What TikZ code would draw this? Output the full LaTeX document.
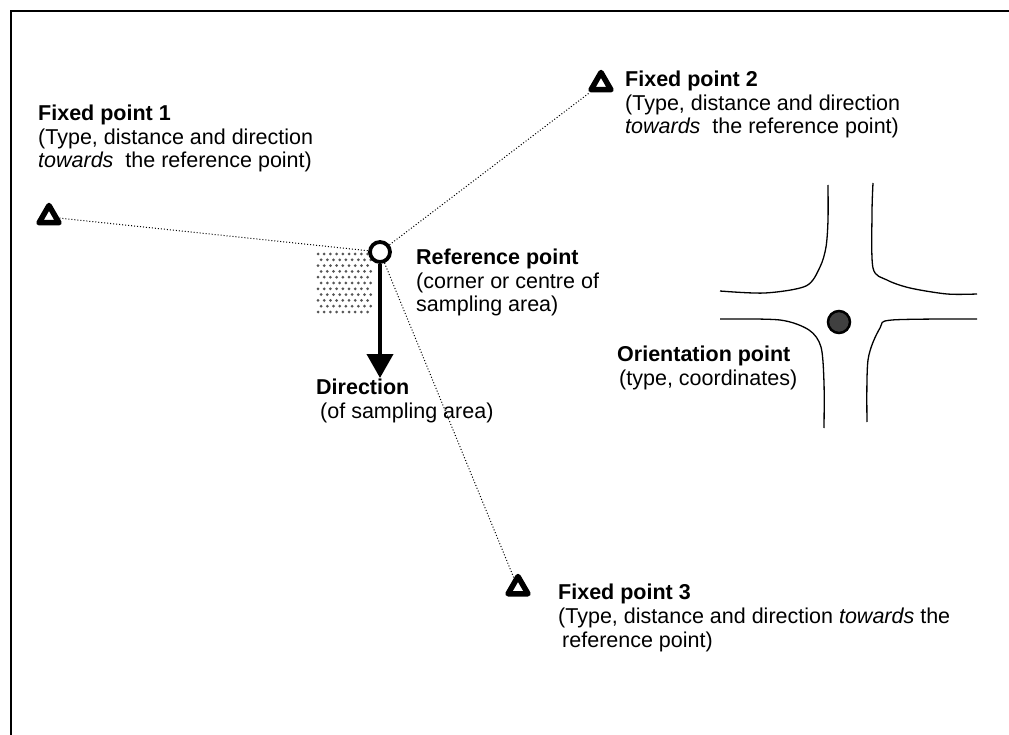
\documentclass[tikz,border=0pt]{standalone}
\usepackage{fontspec}
\setmainfont{Liberation Sans}
\usetikzlibrary{arrows.meta,shapes.geometric}
\definecolor{ink}{HTML}{000000}
\definecolor{dotfill}{HTML}{404040}
\definecolor{stip}{HTML}{555555}

\begin{document}
\begin{tikzpicture}[
    x=1pt, y=-1pt,
    every node/.style={font=\fontsize{21.5}{23.8}\selectfont, text=ink},
    fixpt/.style={regular polygon, regular polygon sides=3, draw=ink, fill=white,
        line width=5.5pt, line join=round, minimum size=23pt, inner sep=0pt},
    refpt/.style={circle, draw=ink, fill=white, line width=3.8pt,
        minimum size=20pt, inner sep=0pt},
    orpt/.style={circle, draw=ink, fill=dotfill, line width=2.5pt,
        minimum size=22pt, inner sep=0pt},
    sight/.style={dotted, line width=1pt, ink},
    road/.style={line width=1.3pt, ink},
    lbl/.style={align=left, anchor=base west, inner sep=0pt},
]
\useasboundingbox (0,0) rectangle (1009,735);

% frame
\draw[line width=2.5pt] (11,735) -- (11,11) -- (1009,11);

% sampling area
\foreach \i in {0,...,10} {
  \foreach \j in {0,...,8} {
    \pgfmathsetmacro{\xx}{318 + 6.2*\j + 3.1*mod(\i,2)}
    \pgfmathsetmacro{\yy}{254 + 5.8*\i}
    \fill[stip] (\xx,\yy) circle (1.5);
  }
}

% points
\node[refpt] (ref) at (380, 252) {};
\node[fixpt] (fp1) at (49, 217) {};
\node[fixpt] (fp2) at (601, 84) {};
\node[fixpt] (fp3) at (518, 588) {};
\coordinate (dirtip) at (380, 378);

% sight lines
\draw[sight] (fp1) -- (ref);
\draw[sight] (ref) -- (fp2);
\draw[sight] (ref) -- (fp3);

% direction
\draw[line width=4pt, -{Triangle[length=24pt, width=26pt]}] (ref) -- (dirtip);

% crossroads
\draw[road] plot[smooth] coordinates {(828,185) (828,220) (826,247) (820,267) (806,286) (765,293) (720,291)};
\draw[road] plot[smooth] coordinates {(873,183) (872,213) (873,268) (887,280) (910,288) (947,294) (977,294)};
\draw[road] plot[smooth] coordinates {(720,319) (780,320) (809,330) (821,347) (824,383) (824,428)};
\draw[road] plot[smooth] coordinates {(977,319) (892,320) (880,328) (868,360) (867,422)};
\node[orpt] (orient) at (839, 322) {};

% labels (anchored at the baseline of the last line)
\node[lbl] (fp1txt) at (38, 168)
    {\textbf{Fixed point 1}\\(Type, distance and direction\\\textit{towards}\ \ the reference point)};
\node[lbl] (fp2txt) at (625, 134)
    {\textbf{Fixed point 2}\\(Type, distance and direction\\\textit{towards}\ \ the reference point)};
\node[lbl] (reftxt) at (416, 312)
    {\textbf{Reference point}\\(corner or centre of\\sampling area)};
\node[lbl] (dirtxt) at (316, 418)
    {\textbf{Direction}\\\hspace*{4pt}(of sampling area)};
\node[lbl] (ortxt) at (617, 385)
    {\textbf{Orientation point}\\\hspace*{2pt}(type, coordinates)};
\node[lbl] (fp3txt) at (558, 647)
    {\textbf{Fixed point 3}\\(Type, distance and direction \textit{towards} the\\\hspace*{4pt}reference point)};

\end{tikzpicture}
\end{document}
